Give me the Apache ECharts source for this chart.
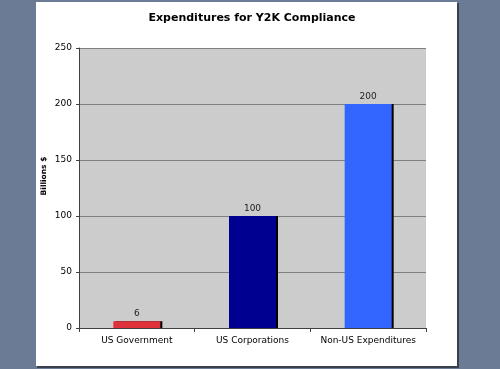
<!DOCTYPE html>
<html><head><meta charset="utf-8">
<script src="https://cdn.jsdelivr.net/npm/echarts@6/dist/echarts.min.js"></script>
<style>html,body{margin:0;padding:0;background:#6b7b95;}#c{width:500px;height:369px;}</style>
</head><body><div id="c"></div>
<script>
const categories = ['US Government', 'US Corporations', 'Non-US Expenditures'];
const values = [6, 100, 200];
const barColors = ['#e0323a', '#000090', '#3366ff'];
const yTicks = [0, 50, 100, 150, 200, 250];
const title = 'Expenditures for Y2K Compliance';
const yName = 'Billions $';

const chart = echarts.init(document.getElementById('c'), null, {renderer: 'canvas'});
chart.setOption({
  backgroundColor: '#6b7b95',
  animation: false,
  graphic: [
    {type: 'rect', z: -10, shape: {x: 37, y: 3, width: 422, height: 365}, style: {fill: '#39414f'}},
    {type: 'rect', z: -9, shape: {x: 36, y: 2, width: 421, height: 364}, style: {fill: '#ffffff'}},
    {type: 'text', x: 44, y: 176, rotation: Math.PI / 2, z: 5,
      style: {text: yName, font: 'bold 7.5px "DejaVu Sans"', fill: '#000', align: 'center', verticalAlign: 'middle'}}
  ],
  title: {
    text: title, left: 247, top: 8, textAlign: 'center',
    textStyle: {fontFamily: 'DejaVu Sans', fontWeight: 'bold', fontSize: 11, color: '#000'}
  },
  grid: {left: 79, right: 74, top: 48, bottom: 41, show: true, backgroundColor: '#cccccc', borderColor: '#b0b0b0', borderWidth: 0},
  xAxis: {
    type: 'category', data: categories,
    axisLine: {show: true, lineStyle: {color: '#404040', width: 1}},
    axisTick: {show: true, alignWithLabel: false, length: 4, lineStyle: {color: '#404040'}},
    axisLabel: {interval: 0, fontFamily: 'DejaVu Sans', fontSize: 9, color: '#000', margin: 8}
  },
  yAxis: {
    type: 'value', min: 0, max: 250, interval: 50,
    axisLine: {show: true, lineStyle: {color: '#404040', width: 1}},
    axisTick: {show: true, length: 3, lineStyle: {color: '#404040'}},
    axisLabel: {fontFamily: 'DejaVu Sans', fontSize: 9, color: '#000', margin: 7,
      formatter: v => yTicks.includes(v) ? String(v) : ''},
    splitLine: {show: true, lineStyle: {color: '#808080', width: 1}}
  },
  series: [{
    type: 'bar', barWidth: 47,
    data: values.map((v, i) => ({value: v, itemStyle: {color: barColors[i]}})),
    itemStyle: {shadowColor: '#000', shadowOffsetX: 2, shadowOffsetY: 0, shadowBlur: 0},
    label: {show: true, position: 'top', distance: 3, fontFamily: 'DejaVu Sans', fontSize: 9, color: '#222'}
  }]
});
</script></body></html>
